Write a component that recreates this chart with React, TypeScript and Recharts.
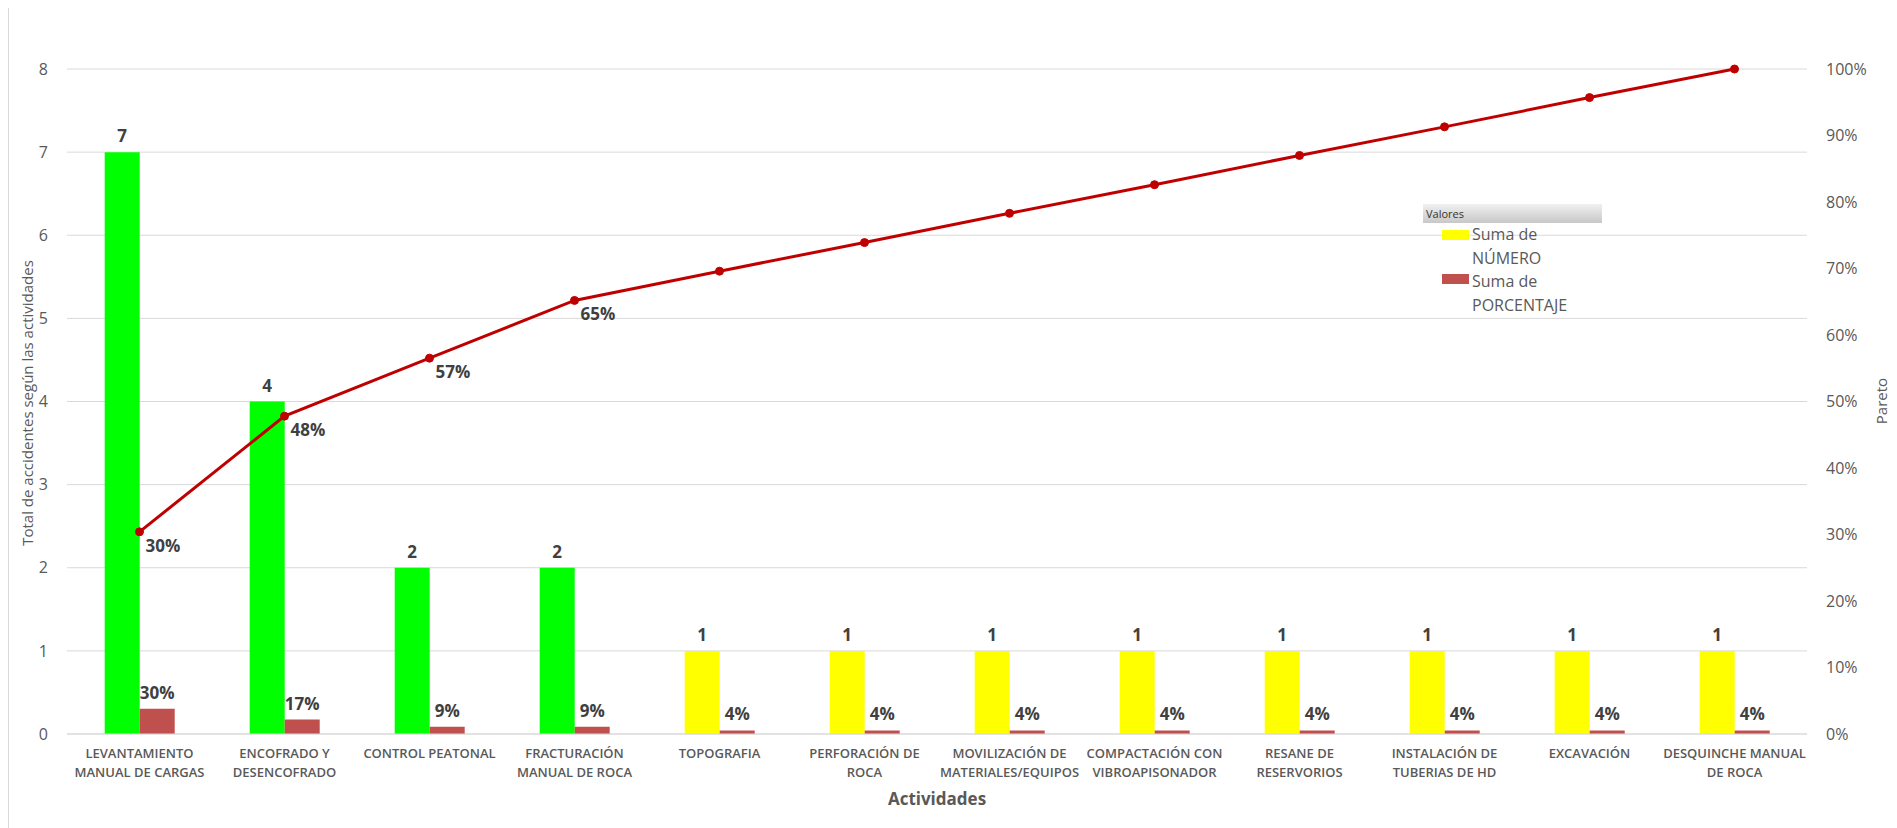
import React from 'react';
import {
  ComposedChart,
  Bar,
  Line,
  XAxis,
  YAxis,
  CartesianGrid,
  Cell,
  LabelList,
} from 'recharts';

// Activities (line breaks follow the printed axis labels)
const activities = [
  'LEVANTAMIENTO\nMANUAL DE CARGAS',
  'ENCOFRADO Y\nDESENCOFRADO',
  'CONTROL PEATONAL',
  'FRACTURACIÓN\nMANUAL DE ROCA',
  'TOPOGRAFIA',
  'PERFORACIÓN DE\nROCA',
  'MOVILIZACIÓN DE\nMATERIALES/EQUIPOS',
  'COMPACTACIÓN CON\nVIBROAPISONADOR',
  'RESANE DE\nRESERVORIOS',
  'INSTALACIÓN DE\nTUBERIAS DE HD',
  'EXCAVACIÓN',
  'DESQUINCHE MANUAL\nDE ROCA',
];

// Suma de NÚMERO
const accidentCounts = [7, 4, 2, 2, 1, 1, 1, 1, 1, 1, 1, 1];

// Suma de PORCENTAJE (share of total accidents)
const accidentShares = [0.304, 0.174, 0.087, 0.087, 0.043, 0.043, 0.043, 0.043, 0.043, 0.043, 0.043, 0.043];

// Pareto cumulative share
const paretoCumulative = [0.304, 0.478, 0.5652, 0.652, 0.696, 0.739, 0.783, 0.826, 0.87, 0.913, 0.957, 1.0];

// Number of activities labelled on the Pareto line ("vital few")
const VITAL_FEW = 4;

const leftTicks = [0, 1, 2, 3, 4, 5, 6, 7, 8];
const rightTicks = [0, 0.1, 0.2, 0.3, 0.4, 0.5, 0.6, 0.7, 0.8, 0.9, 1];

const data = activities.map((activity, i) => ({
  activity,
  count: accidentCounts[i],
  share: accidentShares[i],
  pareto: paretoCumulative[i],
  paretoLabel: i < VITAL_FEW ? paretoCumulative[i] : null,
}));

const FONT = "'Open Sans', 'Noto Sans', sans-serif";
const GREY = '#595959';
const LABEL = '#404040';
const LINE_RED = '#C00000';
const GREEN = '#00FF00';
const YELLOW = '#FFFF00';
const BAR_RED = '#C0504D';

const pct = (v: number) => `${Math.round(v * 100)}%`;

function ActivityTick(props: any) {
  const { x, y, payload } = props;
  const lines = String(payload.value).split('\n');
  return (
    <text x={x} y={y} textAnchor="middle" fill={GREY} fontSize={13} fontWeight={600} fontFamily={FONT}>
      {lines.map((l, i) => (
        <tspan key={i} x={x} dy={i === 0 ? 24 : 19}>
          {l}
        </tspan>
      ))}
    </text>
  );
}

function ParetoLabel(props: any) {
  const { x, y, value } = props;
  if (value === null || value === undefined) return null;
  return (
    <text x={x + 6} y={y + 20} fill={LABEL} fontSize={17} fontWeight={700} fontFamily={FONT}>
      {pct(value)}
    </text>
  );
}

export default function App() {
  return (
    <div
      style={{
        position: 'relative',
        width: 1884,
        height: 822,
        borderLeft: '1px solid #d9d9d9',
        borderRight: '1px solid #d9d9d9',
        fontFamily: FONT,
      }}
    >
      <ComposedChart
        width={1884}
        height={820}
        data={data}
        margin={{ top: 61, right: 26, bottom: 34, left: 18 }}
        barCategoryGap="26%"
        barGap={0}
      >
        <CartesianGrid yAxisId="left" vertical={false} stroke="#d9d9d9" />
        <XAxis
          dataKey="activity"
          interval={0}
          height={60}
          tickLine={false}
          tickSize={0}
          tickMargin={0}
          axisLine={{ stroke: '#d9d9d9' }}
          tick={<ActivityTick />}
        />
        <YAxis
          yAxisId="left"
          width={40}
          domain={[0, 8]}
          ticks={leftTicks}
          axisLine={false}
          tickLine={false}
          tickSize={0}
          tickMargin={19}
          tick={{ fill: GREY, fontSize: 16, fontFamily: FONT }}
        />
        <YAxis
          yAxisId="right"
          orientation="right"
          width={60}
          domain={[0, 1]}
          ticks={rightTicks}
          tickFormatter={pct}
          axisLine={false}
          tickLine={false}
          tickSize={0}
          tickMargin={19}
          tick={{ fill: GREY, fontSize: 16, fontFamily: FONT }}
        />
        <Bar yAxisId="left" dataKey="count" name="Suma de NÚMERO" fill={YELLOW} isAnimationActive={false}>
          {data.map((_, i) => (
            <Cell key={i} fill={i < VITAL_FEW ? GREEN : YELLOW} />
          ))}
          <LabelList
            dataKey="count"
            position="top"
            offset={10}
            fill={LABEL}
            fontSize={17}
            fontWeight={700}
            fontFamily={FONT}
          />
        </Bar>
        <Bar yAxisId="left" dataKey="share" name="Suma de PORCENTAJE" fill={BAR_RED} isAnimationActive={false}>
          <LabelList
            dataKey="share"
            position="top"
            offset={10}
            formatter={(v: any) => pct(Number(v))}
            fill={LABEL}
            fontSize={17}
            fontWeight={700}
            fontFamily={FONT}
          />
        </Bar>
        <Line
          yAxisId="right"
          type="linear"
          dataKey="pareto"
          stroke={LINE_RED}
          strokeWidth={3}
          dot={{ r: 4, fill: LINE_RED, stroke: LINE_RED, strokeWidth: 1 }}
          activeDot={false}
          isAnimationActive={false}
        >
          <LabelList dataKey="paretoLabel" content={<ParetoLabel />} />
        </Line>
      </ComposedChart>

      {/* Axis titles */}
      <div
        style={{
          position: 'absolute',
          left: 18,
          top: 395,
          transform: 'translate(-50%, -50%) rotate(-90deg)',
          whiteSpace: 'nowrap',
          color: GREY,
          fontSize: 15,
        }}
      >
        Total de accidentes según las actividades
      </div>
      <div
        style={{
          position: 'absolute',
          left: 1872,
          top: 393,
          transform: 'translate(-50%, -50%) rotate(-90deg)',
          whiteSpace: 'nowrap',
          color: GREY,
          fontSize: 15,
        }}
      >
        Pareto
      </div>
      <div
        style={{
          position: 'absolute',
          left: 928,
          top: 790,
          transform: 'translate(-50%, -50%)',
          whiteSpace: 'nowrap',
          color: GREY,
          fontSize: 17,
          fontWeight: 700,
        }}
      >
        Actividades
      </div>

      {/* Legend */}
      <div
        style={{
          position: 'absolute',
          left: 1414,
          top: 196,
          width: 179,
          height: 19,
          background: 'linear-gradient(#f0f0f0, #c8c8c8)',
          color: '#333',
          fontSize: 11,
          lineHeight: '19px',
          paddingLeft: 3,
          boxSizing: 'border-box',
        }}
      >
        Valores
      </div>
      <div style={{ position: 'absolute', left: 1433, top: 222, width: 27, height: 10, background: YELLOW }} />
      <div style={{ position: 'absolute', left: 1433, top: 266, width: 27, height: 10, background: BAR_RED }} />
      <div
        style={{
          position: 'absolute',
          left: 1463,
          top: 215,
          color: GREY,
          fontSize: 16,
          lineHeight: '23.5px',
          whiteSpace: 'nowrap',
        }}
      >
        <div>Suma de</div>
        <div>NÚMERO</div>
        <div>Suma de</div>
        <div>PORCENTAJE</div>
      </div>
    </div>
  );
}
